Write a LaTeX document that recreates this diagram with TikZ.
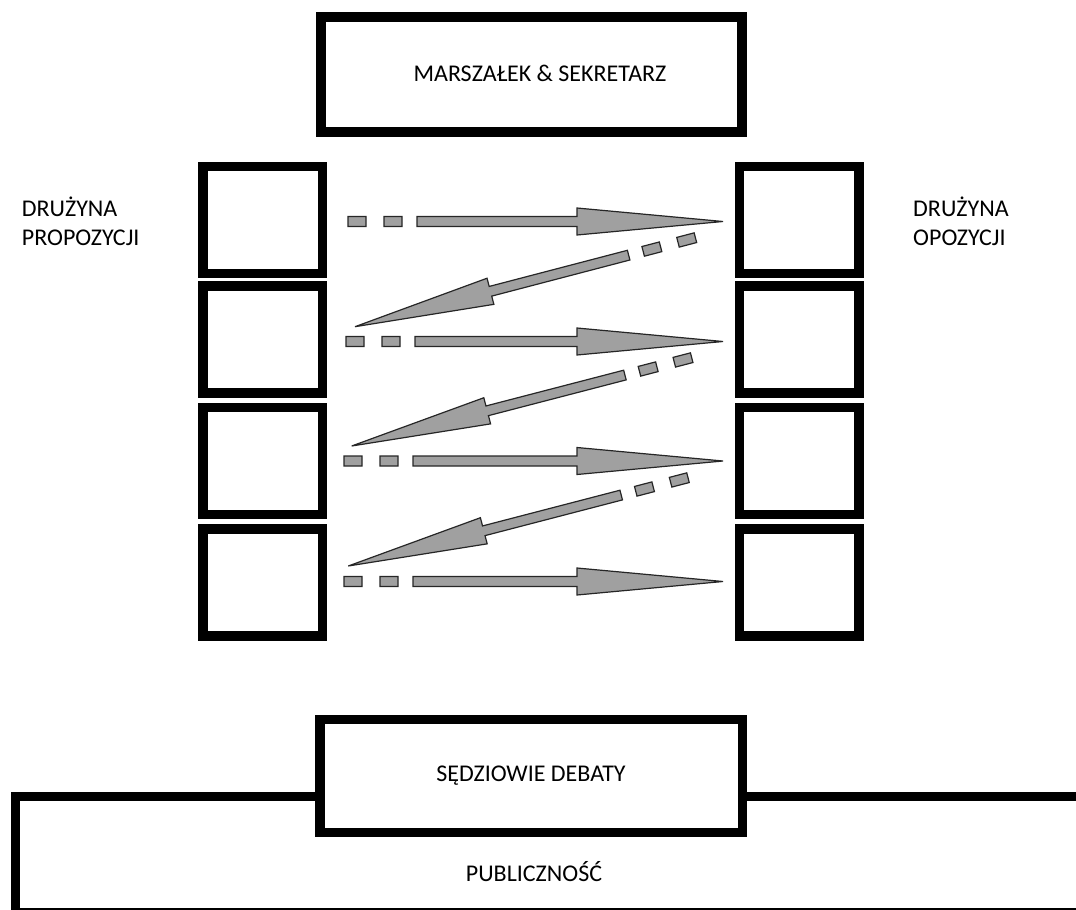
\documentclass[tikz,border=0pt]{standalone}
\usepackage{fontspec}
\setmainfont{Carlito}
\usetikzlibrary{calc}
\tikzset{
  box/.style={draw=black, line width=9.5pt, fill=white, inner sep=0pt,
    minimum width=119.5pt, minimum height=107pt},
  bigbox/.style={draw=black, line width=9.5pt, fill=white, inner sep=0pt},
  txt/.style={font=\fontsize{24}{28.5}\selectfont, inner sep=0pt},
  arrowpart/.style={draw=black!85, line width=1.2pt,
    fill={rgb,255:red,160;green,160;blue,160}, line join=miter},
}
\newcommand\fatarrow[3]{%
  \pgfmathanglebetweenpoints{\pgfpointanchor{#1}{center}}{\pgfpointanchor{#2}{center}}%
  \edef\faang{\pgfmathresult}%
  \begin{scope}[shift={(#1)}, rotate=\faang]
    \path[arrowpart] let \p1=($(#2)-(#1)$), \n1={veclen(\x1,\y1)} in
      (0,-5) -- (18,-5) -- (18,5) -- (0,5) -- cycle
      (36,-5) -- (54,-5) -- (54,5) -- (36,5) -- cycle
      (69,-5) -- ({\n1-#3},-5) -- ({\n1-#3},-13.5) -- (\n1,0)
      -- ({\n1-#3},13.5) -- ({\n1-#3},5) -- (69,5) -- cycle;
  \end{scope}}
\begin{document}
\begin{tikzpicture}[x=1pt, y=1pt]
\useasboundingbox (0,0) rectangle (1076,-910);

% top box
\node[bigbox, minimum width=421pt, minimum height=115pt] (mars) at (531.5,-74.5) {};
\node[txt, anchor=base] (marstxt) at (540,-81.7) {MARSZAŁEK \& SEKRETARZ};

% side labels (base anchor = baseline of the last line)
\node[txt, anchor=base west, align=left] (prop) at (21.7,-245) {DRUŻYNA\\PROPOZYCJI};
\node[txt, anchor=base west, align=left] (opp) at (913,-245) {DRUŻYNA\\OPOZYCJI};

% team boxes
\foreach \i/\y in {1/220, 2/339.5, 3/461, 4/582.25} {
  \node[box] (L\i) at (262.75,-\y) {};
  \node[box] (R\i) at (799.25,-\y) {};
}

% arrow end points
\coordinate (a1s) at (348,-221.5);  \coordinate (a1t) at (723,-221.5);
\coordinate (a2s) at (346,-341.5);  \coordinate (a2t) at (723,-341.5);
\coordinate (a3s) at (344,-461);    \coordinate (a3t) at (723,-461);
\coordinate (a4s) at (344,-581.5);  \coordinate (a4t) at (723,-581.5);
\coordinate (b1s) at (695.4,-237.7); \coordinate (b1t) at (355,-326.7);
\coordinate (b2s) at (691.7,-357.7); \coordinate (b2t) at (351.7,-446);
\coordinate (b3s) at (688,-477.7);   \coordinate (b3t) at (348.3,-566);

\fatarrow{a1s}{a1t}{146}
\fatarrow{b1s}{b1t}{140}
\fatarrow{a2s}{a2t}{146}
\fatarrow{b2s}{b2t}{140}
\fatarrow{a3s}{a3t}{146}
\fatarrow{b3s}{b3t}{140}
\fatarrow{a4s}{a4t}{146}

% audience and judges
\node[bigbox, minimum width=1074.5pt, minimum height=116.5pt] (pub) at (552.75,-854.75) {};
\node[bigbox, minimum width=422.5pt, minimum height=113pt] (judges) at (531.25,-776) {};
\node[txt, anchor=base] (judgestxt) at (531,-781) {SĘDZIOWIE DEBATY};
\node[txt, anchor=base] (pubtxt) at (534,-881) {PUBLICZNOŚĆ};
\end{tikzpicture}
\end{document}
